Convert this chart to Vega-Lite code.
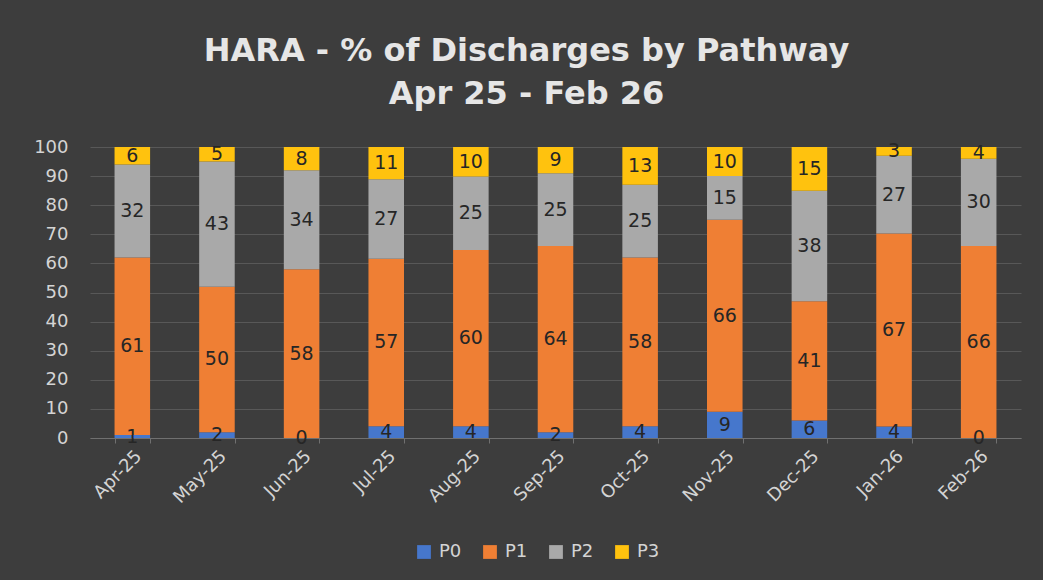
{
  "$schema": "https://vega.github.io/schema/vega-lite/v6.json",
  "width": 931,
  "height": 291,
  "autosize": {"type": "none"},
  "padding": {"left": 90, "top": 147, "right": 22, "bottom": 142},
  "background": "#3d3d3d",
  "title": {
    "text": ["HARA - % of Discharges by Pathway", "Apr 25 - Feb 26"],
    "font": "DejaVu Sans",
    "fontSize": 32,
    "fontWeight": "bold",
    "color": "#e6e6e6",
    "lineHeight": 43,
    "anchor": "middle",
    "dx": -29,
    "offset": 27
  },
  "config": {
    "view": {"stroke": null},
    "font": "DejaVu Sans"
  },
  "data": {
    "values": [
      {"month": "Apr-25", "pathway": "P0", "value": 1},
      {"month": "Apr-25", "pathway": "P1", "value": 61},
      {"month": "Apr-25", "pathway": "P2", "value": 32},
      {"month": "Apr-25", "pathway": "P3", "value": 6},
      {"month": "May-25", "pathway": "P0", "value": 2},
      {"month": "May-25", "pathway": "P1", "value": 50},
      {"month": "May-25", "pathway": "P2", "value": 43},
      {"month": "May-25", "pathway": "P3", "value": 5},
      {"month": "Jun-25", "pathway": "P0", "value": 0},
      {"month": "Jun-25", "pathway": "P1", "value": 58},
      {"month": "Jun-25", "pathway": "P2", "value": 34},
      {"month": "Jun-25", "pathway": "P3", "value": 8},
      {"month": "Jul-25", "pathway": "P0", "value": 4},
      {"month": "Jul-25", "pathway": "P1", "value": 57},
      {"month": "Jul-25", "pathway": "P2", "value": 27},
      {"month": "Jul-25", "pathway": "P3", "value": 11},
      {"month": "Aug-25", "pathway": "P0", "value": 4},
      {"month": "Aug-25", "pathway": "P1", "value": 60},
      {"month": "Aug-25", "pathway": "P2", "value": 25},
      {"month": "Aug-25", "pathway": "P3", "value": 10},
      {"month": "Sep-25", "pathway": "P0", "value": 2},
      {"month": "Sep-25", "pathway": "P1", "value": 64},
      {"month": "Sep-25", "pathway": "P2", "value": 25},
      {"month": "Sep-25", "pathway": "P3", "value": 9},
      {"month": "Oct-25", "pathway": "P0", "value": 4},
      {"month": "Oct-25", "pathway": "P1", "value": 58},
      {"month": "Oct-25", "pathway": "P2", "value": 25},
      {"month": "Oct-25", "pathway": "P3", "value": 13},
      {"month": "Nov-25", "pathway": "P0", "value": 9},
      {"month": "Nov-25", "pathway": "P1", "value": 66},
      {"month": "Nov-25", "pathway": "P2", "value": 15},
      {"month": "Nov-25", "pathway": "P3", "value": 10},
      {"month": "Dec-25", "pathway": "P0", "value": 6},
      {"month": "Dec-25", "pathway": "P1", "value": 41},
      {"month": "Dec-25", "pathway": "P2", "value": 38},
      {"month": "Dec-25", "pathway": "P3", "value": 15},
      {"month": "Jan-26", "pathway": "P0", "value": 4},
      {"month": "Jan-26", "pathway": "P1", "value": 67},
      {"month": "Jan-26", "pathway": "P2", "value": 27},
      {"month": "Jan-26", "pathway": "P3", "value": 3},
      {"month": "Feb-26", "pathway": "P0", "value": 0},
      {"month": "Feb-26", "pathway": "P1", "value": 66},
      {"month": "Feb-26", "pathway": "P2", "value": 30},
      {"month": "Feb-26", "pathway": "P3", "value": 4}
    ]
  },
  "transform": [
    {"stack": "value", "groupby": ["month"], "sort": [{"field": "pathway"}], "offset": "normalize", "as": ["y0", "y1"]},
    {"calculate": "(datum.y0 + datum.y1) / 2", "as": "ymid"}
  ],
  "encoding": {
    "x": {
      "field": "month",
      "type": "nominal",
      "sort": null,
      "scale": {"paddingInner": 0.58, "paddingOuter": 0.29},
      "axis": {
        "title": null,
        "labelAngle": -45,
        "labelFontSize": 18,
        "labelColor": "#d4d4d4",
        "labelPadding": 4,
        "domainColor": "#707070",
        "tickColor": "#707070",
        "tickBand": "extent",
        "tickSize": 5,
        "grid": false
      }
    }
  },
  "layer": [
    {
      "mark": {"type": "bar"},
      "encoding": {
        "y": {
          "field": "y0",
          "type": "quantitative",
          "scale": {"domain": [0, 1], "nice": false},
          "axis": {
            "title": null,
            "values": [0, 0.1, 0.2, 0.3, 0.4, 0.5, 0.6, 0.7, 0.8, 0.9, 1],
            "labelExpr": "round(datum.value * 100)",
            "labelFontSize": 18,
            "labelColor": "#d4d4d4",
            "labelPadding": 22,
            "labelOverlap": false,
            "domain": false,
            "ticks": false,
            "gridColor": "#585858",
            "gridWidth": 1
          }
        },
        "y2": {"field": "y1"},
        "color": {
          "field": "pathway",
          "type": "nominal",
          "scale": {
            "domain": ["P0", "P1", "P2", "P3"],
            "range": ["#4677CC", "#EF7F34", "#A9A9A9", "#FFC20E"]
          },
          "legend": {
            "title": null,
            "orient": "none",
            "direction": "horizontal",
            "legendX": 325,
            "legendY": 396,
            "symbolType": "square",
            "symbolSize": 190,
            "symbolStrokeWidth": 0,
            "labelColor": "#d4d4d4",
            "labelFontSize": 18,
            "labelOffset": 6,
            "columnPadding": 19
          }
        }
      }
    },
    {
      "mark": {"type": "text", "fontSize": 19, "color": "#262626"},
      "encoding": {
        "y": {
          "field": "ymid",
          "type": "quantitative",
          "axis": {
            "title": null,
            "values": [0, 0.1, 0.2, 0.3, 0.4, 0.5, 0.6, 0.7, 0.8, 0.9, 1],
            "labelExpr": "round(datum.value * 100)",
            "labelFontSize": 18,
            "labelColor": "#d4d4d4",
            "labelPadding": 22,
            "labelOverlap": false,
            "domain": false,
            "ticks": false,
            "gridColor": "#585858",
            "gridWidth": 1
          }
        },
        "text": {"field": "value", "type": "quantitative"}
      }
    }
  ]
}
